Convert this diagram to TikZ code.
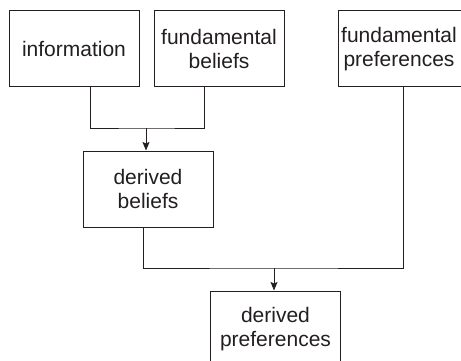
\documentclass[tikz,border=0pt]{standalone}
\usepackage{fontspec}
\setmainfont{Liberation Sans}
\usetikzlibrary{arrows.meta}
\definecolor{ink}{HTML}{231F20}
\begin{document}
\begin{tikzpicture}[x=1pt,y=-1pt,
  box/.style={draw=ink,line width=1pt,minimum width=130pt,minimum height=76pt,inner sep=0pt,align=center,text=ink,font=\fontsize{21}{24}\selectfont},
  txt/.style={inner sep=0pt,align=center,text=ink,font=\fontsize{21}{24}\selectfont},
  conn/.style={draw=ink,line width=1pt},
  arr/.style={conn,-{Stealth[length=8.5pt,width=7pt,inset=1.5pt]}}]
\useasboundingbox (0,0) rectangle (461,361);
\clip (0,0) rectangle (461,361);
\fill[white] (0,0) rectangle (461,361);
\node[box] (info) at (74,49) {information};
\node[box] (fb) at (219,49) {fundamental\\beliefs};
\node[box] (fp) at (403,49) {};
\node[txt] (fpt) at (399,49) {fundamental\\preferences};
\node[box] (db) at (148,189) {derived\\beliefs};
\node[box] (dp) at (275.5,329) {derived\\preferences};
\coordinate (j1) at (146,128);
\coordinate (j2) at (274,268);
\draw[conn] ([xshift=16pt]info.south) |- (j1) -| ([xshift=-15pt]fb.south);
\draw[arr] (j1) -- (db.north -| j1);
\draw[conn] ([xshift=-5pt]db.south) |- (j2) -| (fp.south);
\draw[arr] (j2) -- (dp.north -| j2);
\end{tikzpicture}
\end{document}
